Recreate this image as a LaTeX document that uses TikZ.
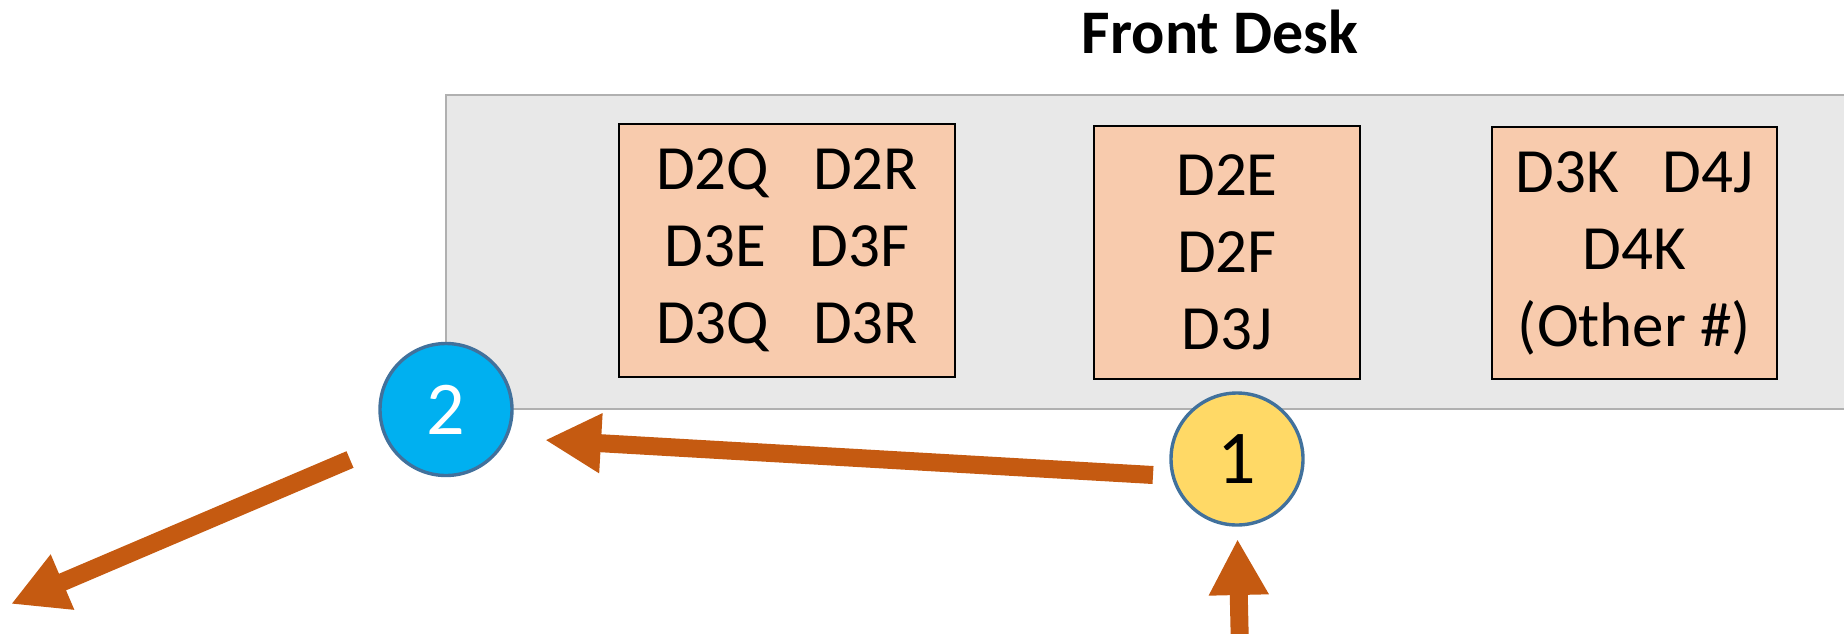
\documentclass[tikz,border=0pt]{standalone}
\usepackage{fontspec}
\setmainfont{Carlito}
\usetikzlibrary{arrows.meta}
\definecolor{deskgray}{HTML}{E8E8E8}
\definecolor{deskline}{HTML}{B0B0B0}
\definecolor{boxfill}{HTML}{F8CBAD}
\definecolor{arrowc}{HTML}{C55A11}
\definecolor{circline}{HTML}{41719C}
\definecolor{circblue}{HTML}{00B0F0}
\definecolor{circyellow}{HTML}{FFD966}
\tikzset{
  roombox/.style={draw=black, line width=1.5pt, fill=boxfill, inner sep=0pt,
    align=center, font=\fontsize{63}{77}\selectfont},
  stepcirc/.style={circle, draw=circline, line width=3.4pt, minimum size=132pt,
    inner sep=0pt, font=\fontsize{76}{90}\selectfont},
  flowarrow/.style={draw=arrowc, line width=18pt,
    -{Triangle[length=56pt,width=56pt]}},
}
\begin{document}
\begin{tikzpicture}[x=1pt,y=-1pt]
\useasboundingbox (0,0) rectangle (1844,633);
\clip (0,0) rectangle (1844,633);
% desk area
\draw[fill=deskgray, draw=deskline, line width=2pt] (446,95) rectangle (1900,409);
% title
\node[anchor=base, font=\fontsize{62}{74}\selectfont\bfseries] (title) at (1220,53) {Front Desk};
% boxes
\node[roombox, minimum width=336pt, minimum height=253pt] (boxA) at (787,250.5)
  {D2Q\hspace{44pt}D2R\\D3E\hspace{44pt}D3F\\D3Q\hspace{44pt}D3R};
\node[roombox, minimum width=266pt, minimum height=253pt] (boxB) at (1227,252.5)
  {D2E\\D2F\\D3J};
\node[roombox, minimum width=285pt, minimum height=252pt] (boxC) at (1634.5,253)
  {D3K\hspace{44pt}D4J\\D4K\\(Other \#)};
% arrow end points
\coordinate (a1tail) at (1153,475);
\coordinate (a1tip) at (545,440);
\coordinate (a2tail) at (350,459.5);
\coordinate (a2tip) at (11,604);
\coordinate (a3tail) at (1240,650);
\coordinate (a3tip) at (1237.5,539);
\draw[flowarrow] (a1tail) -- (a1tip);
\draw[flowarrow] (a2tail) -- (a2tip);
\draw[flowarrow] (a3tail) -- (a3tip);
% circles
\node[stepcirc, fill=circblue, text=white] (c2) at (446,409.5) {2};
\node[stepcirc, fill=circyellow, text=black] (c1) at (1237,459) {1};
\end{tikzpicture}
\end{document}
